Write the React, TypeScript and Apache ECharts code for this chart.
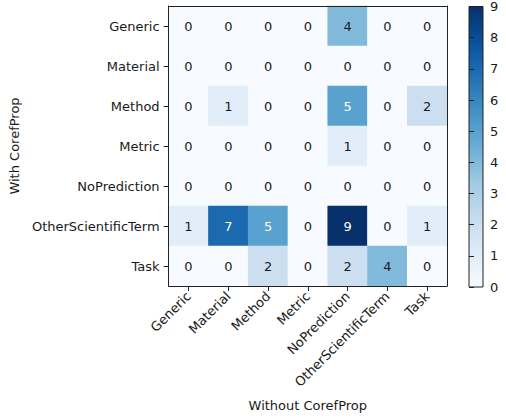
import React, { useEffect, useRef } from "react";
import * as echarts from "echarts";

const xCategories = ["Generic", "Material", "Method", "Metric", "NoPrediction", "OtherScientificTerm", "Task"];
const yCategories = ["Generic", "Material", "Method", "Metric", "NoPrediction", "OtherScientificTerm", "Task"];
const matrix = [
  [0, 0, 0, 0, 4, 0, 0],
  [0, 0, 0, 0, 0, 0, 0],
  [0, 1, 0, 0, 5, 0, 2],
  [0, 0, 0, 0, 1, 0, 0],
  [0, 0, 0, 0, 0, 0, 0],
  [1, 7, 5, 0, 9, 0, 1],
  [0, 0, 2, 0, 2, 4, 0],
];
const colorbarTicks = [0, 1, 2, 3, 4, 5, 6, 7, 8, 9];
const xTitle = "Without CorefProp";
const yTitle = "With CorefProp";

const BLUES = ["#f7fbff", "#deebf7", "#c6dbef", "#9ecae1", "#6baed6", "#4292c6", "#2171b5", "#08519c", "#08306b"];
const FONT = "DejaVu Sans";
const FS = 13;
const TEXT = "#1a1a1a";

export default function App() {
  const ref = useRef<HTMLDivElement>(null);
  useEffect(() => {
    if (!ref.current) return;
    const chart = echarts.init(ref.current, null, { renderer: "svg" });
    const vmax = Math.max(...matrix.flat());
    const vmin = 0;
    const data: any[] = [];
    matrix.forEach((row, yi) =>
      row.forEach((v, xi) => {
        data.push({
          value: [xi, yi, v],
          label: { color: v > vmax / 2 ? "#ffffff" : TEXT },
        });
      })
    );
    const gradient = new echarts.graphic.LinearGradient(
      0, 1, 0, 0,
      BLUES.map((c, i) => ({ offset: i / (BLUES.length - 1), color: c }))
    );
    const frame = { show: true, lineStyle: { color: "#222", width: 1 } };
    chart.setOption({
      animation: false,
      grid: [
        { left: 167, top: 6, width: 280, height: 280, show: false },
        {
          left: 469, top: 6, width: 14, height: 281, show: true,
          backgroundColor: gradient, borderColor: "#222", borderWidth: 1,
        },
      ],
      xAxis: [
        {
          type: "category", gridIndex: 0, data: xCategories, z: 10,
          name: xTitle, nameLocation: "middle", nameGap: 113,
          nameTextStyle: { fontFamily: FONT, fontSize: FS, color: TEXT },
          axisLine: frame,
          axisTick: { show: true, alignWithLabel: true, length: 5, lineStyle: { color: "#222" } },
          axisLabel: { rotate: 45, margin: 8, fontFamily: FONT, fontSize: FS, color: TEXT, interval: 0 },
          splitLine: { show: false },
        },
        {
          type: "category", gridIndex: 0, data: xCategories, position: "top", z: 10,
          axisLine: frame, axisTick: { show: false }, axisLabel: { show: false },
        },
        {
          type: "value", gridIndex: 1, show: false, min: 0, max: 1,
        },
      ],
      yAxis: [
        {
          type: "category", gridIndex: 0, data: yCategories, inverse: true, z: 10,
          name: yTitle, nameLocation: "middle", nameGap: 135, nameRotate: 90,
          nameTextStyle: { fontFamily: FONT, fontSize: FS, color: TEXT },
          axisLine: frame,
          axisTick: { show: true, alignWithLabel: true, length: 5, lineStyle: { color: "#222" } },
          axisLabel: { margin: 9, fontFamily: FONT, fontSize: FS, color: TEXT, interval: 0 },
          splitLine: { show: false },
        },
        {
          type: "category", gridIndex: 0, data: yCategories, inverse: true, position: "right", z: 10,
          axisLine: frame, axisTick: { show: false }, axisLabel: { show: false },
        },
        {
          type: "value", gridIndex: 1, position: "right", min: vmin, max: colorbarTicks[colorbarTicks.length - 1], interval: 1,
          axisLine: { show: false },
          axisTick: { show: true, length: 5, lineStyle: { color: "#222" } },
          axisLabel: {
            margin: 7, fontFamily: FONT, fontSize: FS, color: TEXT,
            formatter: (v: number) => (colorbarTicks.includes(v) ? String(v) : ""),
          },
          splitLine: { show: false },
        },
      ],
      visualMap: {
        show: false, type: "continuous", min: vmin, max: vmax, dimension: 2, seriesIndex: 0,
        inRange: { color: BLUES },
      },
      series: [
        {
          type: "heatmap", xAxisIndex: 0, yAxisIndex: 0, data,
          label: { show: true, fontFamily: FONT, fontSize: FS },
          itemStyle: { borderWidth: 0 },
          emphasis: { disabled: true },
        },
      ],
    });
    return () => chart.dispose();
  }, []);
  return (
    <div
      ref={ref}
      style={{ position: "fixed", left: 0, top: 0, width: 506, height: 418, background: "#fff" }}
    />
  );
}
